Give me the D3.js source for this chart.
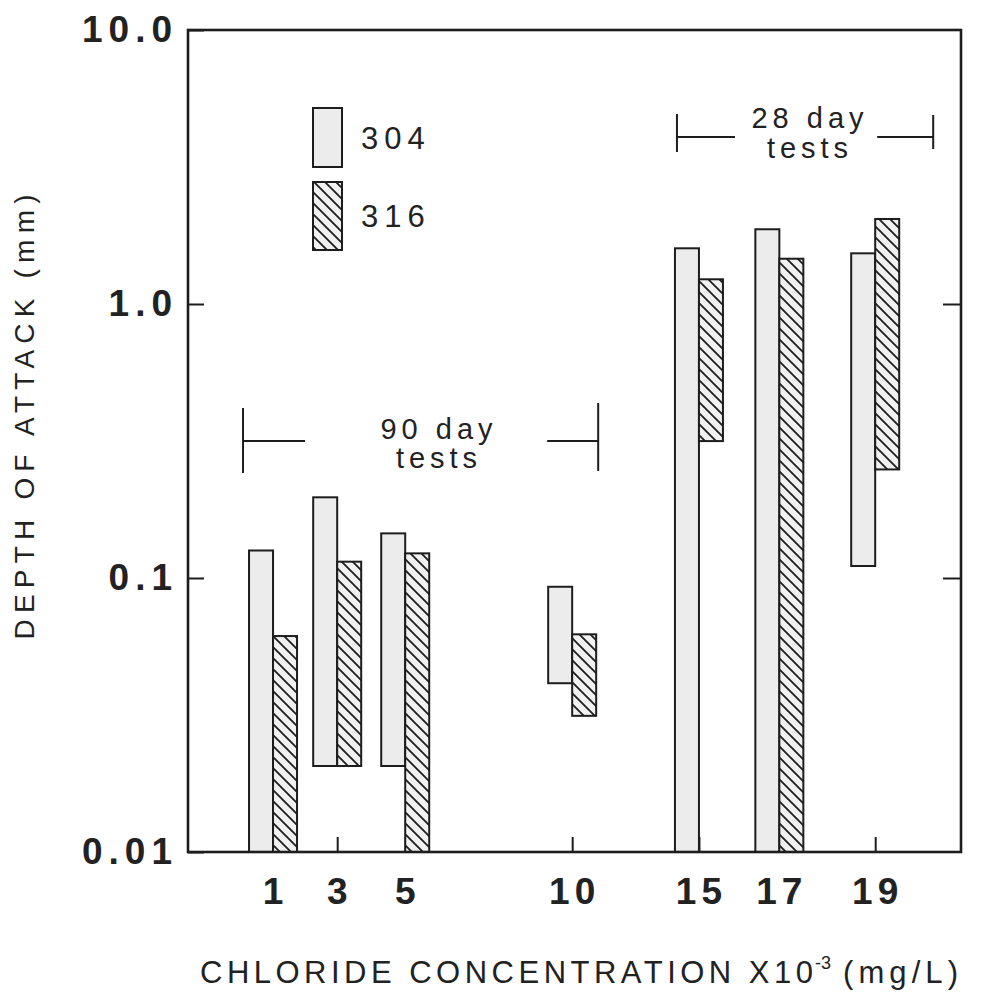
<!DOCTYPE html>
<html>
<head>
<meta charset="utf-8">
<script src="https://cdn.jsdelivr.net/npm/d3@7/dist/d3.min.js"></script>
<style>
  body { margin: 0; background: #ffffff; }
  svg { display: block; }
</style>
</head>
<body>
<svg id="chart" width="984" height="995"></svg>
<script>
// Chloride concentration (x10^3 mg/L) for each test group
const concentrations = [1, 3, 5, 10, 15, 17, 19];
const seriesNames = ["304", "316"];
// Range of attack depth (mm): lowest and deepest value per concentration
const low304  = [0.01, 0.0206, 0.0206, 0.0413, 0.01, 0.01, 0.1106];
const high304 = [0.126, 0.197, 0.1455, 0.0929, 1.597, 1.874, 1.531];
const low316  = [0.01, 0.0206, 0.01, 0.0314, 0.316, 0.01, 0.249];
const high316 = [0.0614, 0.1147, 0.123, 0.0623, 1.231, 1.463, 2.043];
const yTickValues = [0.01, 0.1, 1, 10];
const yTickLabels = ["0.01", "0.1", "1.0", "10.0"];

// ---- layout ----
const plot = { left: 188, top: 30, right: 961, bottom: 852 };
// horizontal placement of each concentration group across the plot width
const slotFrac = [0.110, 0.193, 0.281, 0.497, 0.661, 0.765, 0.889];
const barW = 24;
const ink = "#1d1d1d";
const font = "'Liberation Sans', Arial, Helvetica, sans-serif";

const svg = d3.select("#chart");

const x = d3.scaleLinear()
  .domain(concentrations)
  .range(slotFrac.map(f => plot.left + f * (plot.right - plot.left)));

const y = d3.scaleLog()
  .domain([0.01, 10])
  .range([plot.bottom, plot.top]);

// hatch fill for the 316 bars
const defs = svg.append("defs");
const pat = defs.append("pattern")
  .attr("id", "hatch")
  .attr("patternUnits", "userSpaceOnUse")
  .attr("width", 11).attr("height", 11);
pat.append("rect").attr("width", 11).attr("height", 11).attr("fill", "#f1f1f1");
pat.append("path")
  .attr("d", "M-1,-1 L12,12 M-1,10 L1,12 M10,-1 L12,1")
  .attr("stroke", ink).attr("stroke-width", 1.8).attr("fill", "none");

// ---- axes (inward ticks) ----
const yAxis = d3.axisLeft(y)
  .tickValues(yTickValues)
  .tickFormat((d, i) => yTickLabels[i])
  .tickSizeInner(-16).tickSizeOuter(0).tickPadding(10);
const gy = svg.append("g").attr("transform", `translate(${plot.left},0)`).call(yAxis);
gy.select(".domain").remove();
gy.selectAll("line").attr("stroke", ink).attr("stroke-width", 2);
gy.selectAll("text")
  .attr("font-family", font).attr("font-size", 37).attr("font-weight", "bold")
  .attr("letter-spacing", 6).attr("fill", "#222");

const yAxisR = d3.axisRight(y)
  .tickValues([0.1, 1]).tickFormat("")
  .tickSizeInner(-18).tickSizeOuter(0);
const gyr = svg.append("g").attr("transform", `translate(${plot.right},0)`).call(yAxisR);
gyr.select(".domain").remove();
gyr.selectAll("line").attr("stroke", ink).attr("stroke-width", 2);

const xAxis = d3.axisBottom(x)
  .tickValues(concentrations)
  .tickFormat(d3.format("d"))
  .tickSizeInner(-15).tickSizeOuter(0).tickPadding(26);
const gx = svg.append("g").attr("transform", `translate(0,${plot.bottom})`).call(xAxis);
gx.select(".domain").remove();
gx.selectAll("line").attr("stroke", ink).attr("stroke-width", 2);
gx.selectAll("text")
  .attr("font-family", font).attr("font-size", 37).attr("font-weight", "bold")
  .attr("letter-spacing", 5).attr("dx", 2).attr("fill", "#222");

// ---- floating range bars ----
const rows = concentrations.map((c, i) => ([
  { c, s: seriesNames[0], lo: low304[i], hi: high304[i], off: -barW, fill: "#ececec" },
  { c, s: seriesNames[1], lo: low316[i], hi: high316[i], off: 0, fill: "url(#hatch)" }
])).flat();

svg.append("g").selectAll("rect")
  .data(rows)
  .join("rect")
  .attr("x", d => x(d.c) + d.off)
  .attr("y", d => y(d.hi))
  .attr("width", barW)
  .attr("height", d => y(d.lo) - y(d.hi))
  .attr("fill", d => d.fill)
  .attr("stroke", ink)
  .attr("stroke-width", 2);

// ---- frame ----
svg.append("rect")
  .attr("x", plot.left).attr("y", plot.top)
  .attr("width", plot.right - plot.left).attr("height", plot.bottom - plot.top)
  .attr("fill", "none").attr("stroke", ink).attr("stroke-width", 2.6);

// ---- legend ----
const legend = svg.append("g");
const legendItems = [
  { name: seriesNames[0], fill: "#ececec", y0: 108, h: 59 },
  { name: seriesNames[1], fill: "url(#hatch)", y0: 182, h: 68 }
];
legendItems.forEach(it => {
  legend.append("rect")
    .attr("x", 313).attr("y", it.y0).attr("width", 29).attr("height", it.h)
    .attr("fill", it.fill).attr("stroke", ink).attr("stroke-width", 2);
  legend.append("text")
    .attr("x", 361).attr("y", it.y0 + it.h / 2 + 11)
    .attr("font-family", font).attr("font-size", 31)
    .attr("letter-spacing", 6).attr("fill", "#222")
    .text(it.name);
});

// ---- test-duration brackets ----
function bracket(x1, x2, yMid, half1, half2, gapL, gapR, lines, tx, baselines) {
  const g = svg.append("g").attr("stroke", ink).attr("stroke-width", 2).attr("fill", "none");
  g.append("line").attr("x1", x1).attr("x2", x1).attr("y1", yMid - half1[0]).attr("y2", yMid + half1[1]);
  g.append("line").attr("x1", x2).attr("x2", x2).attr("y1", yMid - half2[0]).attr("y2", yMid + half2[1]);
  g.append("line").attr("x1", x1).attr("x2", gapL).attr("y1", yMid).attr("y2", yMid);
  g.append("line").attr("x1", gapR).attr("x2", x2).attr("y1", yMid).attr("y2", yMid);
  // two stacked lines of one label
  const t = svg.append("text")
    .attr("text-anchor", "middle")
    .attr("font-family", font).attr("font-size", 29)
    .attr("letter-spacing", 5).attr("fill", "#222");
  lines.forEach((s, i) => {
    t.append("tspan").attr("x", tx).attr("y", baselines[i]).text(s);
  });
}
bracket(x(1) - 30, x(10) + 26, 441, [33, 32], [38, 30], x(1) + 32, x(10) - 25,
        ["90 day", "tests"], 439, [439, 468]);
bracket(x(15) - 22, x(19) + 58, 137, [23, 15], [22, 12], x(15) + 36, x(19) + 2,
        ["28 day", "tests"], 810, [128, 158]);

// ---- axis titles ----
svg.append("text")
  .attr("transform", "translate(34,417) rotate(-90)")
  .attr("text-anchor", "middle")
  .attr("font-family", font).attr("font-size", 28)
  .attr("textLength", 445).attr("lengthAdjust", "spacing")
  .attr("fill", "#222")
  .text("DEPTH OF ATTACK (mm)");

const xt = svg.append("g").attr("font-family", font).attr("fill", "#222");
xt.append("text").attr("x", 200).attr("y", 983).attr("font-size", 31)
  .attr("textLength", 613).attr("lengthAdjust", "spacing")
  .text("CHLORIDE CONCENTRATION X10");
xt.append("text").attr("x", 815).attr("y", 969).attr("font-size", 18)
  .text("-3");
xt.append("text").attr("x", 843).attr("y", 983).attr("font-size", 31)
  .attr("textLength", 115).attr("lengthAdjust", "spacing")
  .text("(mg/L)");
</script>
</body>
</html>
